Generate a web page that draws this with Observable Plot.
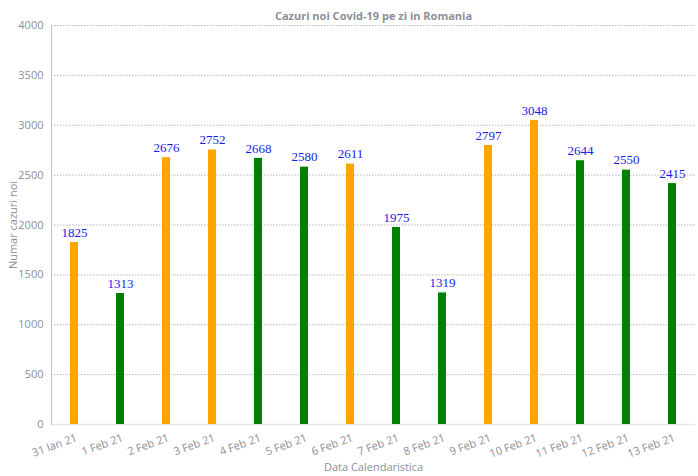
<!DOCTYPE html>
<html>
<head>
<meta charset="utf-8">
<script src="https://cdn.jsdelivr.net/npm/d3@7"></script>
<script src="https://cdn.jsdelivr.net/npm/@observablehq/plot@0.6"></script>
<style>
  html, body { margin: 0; padding: 0; background: #fff; }
  svg { display: block; }
</style>
</head>
<body>
<div id="chart"></div>
<script>
const title = "Cazuri noi Covid-19 pe zi in Romania";
const dates = ["31 Ian 21", "1 Feb 21", "2 Feb 21", "3 Feb 21", "4 Feb 21", "5 Feb 21", "6 Feb 21",
               "7 Feb 21", "8 Feb 21", "9 Feb 21", "10 Feb 21", "11 Feb 21", "12 Feb 21", "13 Feb 21"];
const cases = [1825, 1313, 2676, 2752, 2668, 2580, 2611, 1975, 1319, 2797, 3048, 2644, 2550, 2415];
const trend = ["up", "down", "up", "up", "down", "down", "up", "down", "down", "up", "up", "down", "down", "down"];
const yTicks = [0, 500, 1000, 1500, 2000, 2500, 3000, 3500, 4000];

const data = dates.map((d, i) => ({date: d, value: cases[i], trend: trend[i]}));

const chart = Plot.plot({
  width: 698,
  height: 476,
  marginTop: 25,
  marginBottom: 52,
  marginLeft: 51,
  marginRight: 3,
  style: {fontFamily: "'Open Sans', sans-serif", fontSize: "11px", color: "#8a8f99", background: "#fff"},
  x: {domain: dates, paddingInner: 0.826, paddingOuter: 0.413},
  y: {domain: [0, 4000]},
  color: {domain: ["up", "down"], range: ["#FFA500", "#008000"]},
  marks: [
    Plot.gridY(yTicks, {stroke: "#b8b8b8", strokeOpacity: 1, strokeDasharray: "1.5,1.5", strokeWidth: 1}),
    Plot.ruleY([0], {stroke: "#e6e6e6", strokeWidth: 1.5}),
    Plot.frame({anchor: "left", stroke: "#c0c0c0"}),
    Plot.axisY(yTicks, {tickSize: 0, tickPadding: 8, tickFormat: "d", fill: "#8a8f99", label: "Numar cazuri noi", labelAnchor: "center", labelOffset: 42, labelArrow: "none"}),
    Plot.axisX({tickSize: 0, tickRotate: -20, tickPadding: 13, dx: 2, fill: "#8a8f99", label: null}),
    Plot.axisX({tickSize: 0, ticks: [], label: "Data Calendaristica", labelAnchor: "center", labelOffset: 46, labelArrow: "none", fill: "#8a8f99"}),
    Plot.barY(data, {x: "date", y: "value", fill: "trend"}),
    Plot.text(data, {x: "date", y: "value", text: d => String(d.value), dy: -10, fill: "#1a1aee",
      fontFamily: "'Liberation Serif', 'Times New Roman', serif", fontSize: 13}),
    Plot.text([title], {frameAnchor: "top", dy: -13, fontWeight: "bold", fontSize: 11, fill: "#8a8f99"})
  ]
});
document.getElementById("chart").appendChild(chart);
</script>
</body>
</html>
